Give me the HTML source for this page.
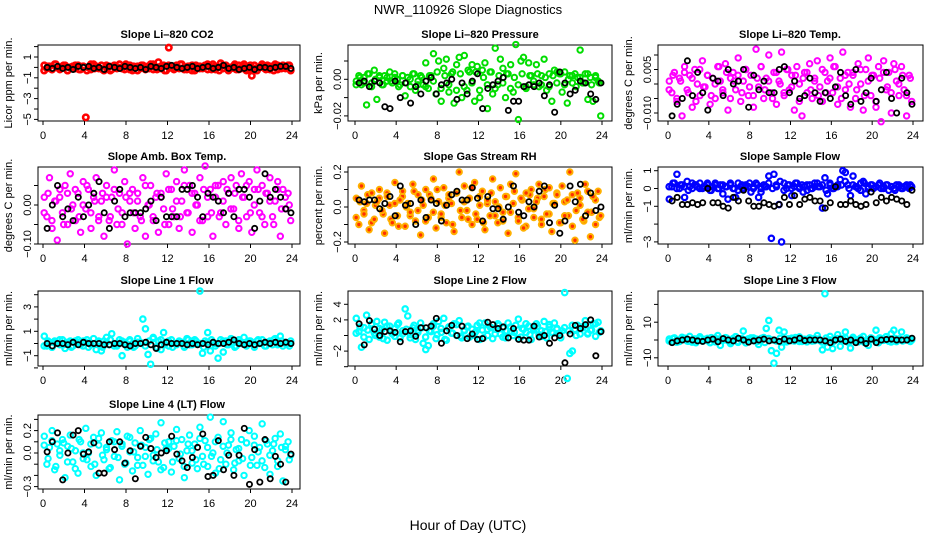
<!DOCTYPE html>
<html><head><meta charset="utf-8"><style>
html,body{margin:0;padding:0;background:#fff;}
svg{display:block;font-family:"Liberation Sans",Arial,sans-serif;}
</style></head><body>
<svg id="chart" width="936" height="540" viewBox="0 0 936 540" xmlns="http://www.w3.org/2000/svg">
<rect width="936" height="540" fill="#fff"/>
<text x="468" y="14" text-anchor="middle" font-size="13">NWR_110926  Slope Diagnostics</text>
<text x="468" y="530" text-anchor="middle" font-size="14">Hour of Day (UTC)</text>
</svg>
<script>
const xTicks = [0,4,8,12,16,20,24];
const p1Color = [0.2,-0.1,0.1,-0.2,0.3,0,-0.2,0.1,0.2,-0.3,0,0.1,-0.1,0.2,-0.2,0.1,-4.8,0,-0.2,0.3,0.1,-0.1,0.2,-0.3,0,0.1,-0.2,0.2,-0.1,0.3,0,-0.2,0.1,0.2,-0.3,0,0.1,-0.1,0.2,-0.2,0.1,0.3,-0.2,0,0.5,-0.1,0.2,-0.3,1.9,0.1,-0.2,0.2,-0.1,0.3,0,-0.2,0.1,0.2,-0.3,0,0.1,-0.1,0.2,-0.2,0.1,0.3,-0.2,0,0.4,-0.1,0.2,-0.3,0,0.1,-0.2,0.2,-0.1,0.3,0,-0.2,-0.8,0.2,-0.3,0,0.1,-0.1,0.2,-0.2,0.1,0.3,-0.2,0,0.2,-0.1,0.2,-0.3];
const p1Extra = [-0.3,0.1,-0.2,0.3,-0.1,0.2,-0.3,0.0,0.2,-0.2,0.1,-0.3,0.3,-0.1,0.0,-0.2,0.2,-0.3,0.1,0.0,-0.1,0.3,-0.2,0.1,-0.3,0.2,0.0,-0.1,0.3,-0.2,0.1,-0.3,0.2,-0.1,0.0,0.3,-0.2,0.1,-0.3,0.2,-0.1,0.0,0.3,-0.2,0.1,-0.3,0.2,0.0,-0.1,0.3,-0.2,0.1,-0.3,0.2,-0.1,0.0,0.3,-0.2,0.1,-0.3,0.2,-0.1,0.0,0.2];
const p1Black = [0.0,-0.1,0.1,-0.1,0,-0.2,0.1,0,0.1,-0.1,0,-0.2,0.1,0,-0.1,0.1,0,-0.1,0,-0.2,0.1,0,-0.1,0.1,0.2,0,-0.1,0,0.1,-0.1,0,0.1,-0.1,0,0.2,-0.1,0,-0.2,-0.1,0,-0.2,0,0,-0.1,0,0.1,0.1,-0.1];
const p2Color = [-0.001,0.002,-0.003,0.001,-0.014,0.003,-0.002,0.005,-0.011,0.001,-0.003,0.002,-0.001,0.004,-0.002,0.001,0.000,-0.003,0.002,-0.009,0.001,-0.004,0.003,-0.006,-0.001,0.002,-0.003,0.009,-0.005,0.002,0.014,-0.008,0.010,-0.012,0.006,0.011,-0.007,0.003,-0.013,0.008,0.012,-0.010,0.013,-0.006,0.004,0.008,-0.012,0.007,-0.010,0.005,0.009,-0.016,0.004,-0.008,0.017,-0.003,0.011,0.006,-0.010,0.003,0.008,-0.007,0.019,-0.022,0.010,0.012,-0.005,0.009,0.002,-0.003,0.008,-0.004,0.002,0.011,-0.006,0.003,-0.012,0.005,0.004,0.003,-0.007,0.004,-0.013,0.002,-0.002,0.003,0.001,0.016,-0.002,0.003,-0.011,0.001,-0.012,0.002,-0.001,-0.020];
const p2Extra = [-0.003,0.001,-0.002,0.003,-0.004,0.000,0.002,-0.003,0.001,-0.001,0.003,-0.004,0.002,-0.002,0.000,0.003,-0.003,0.001,-0.004,0.002,-0.001,0.004,-0.005,0.002,-0.003,0.004,-0.006,0.003,-0.004,0.005,-0.002,0.004,-0.006,0.001,-0.003,0.004,-0.005,0.002,-0.002,0.003,-0.005,0.001,-0.003,0.003,-0.004,0.002,-0.001,0.003,-0.003,0.001,-0.004,0.002,-0.002,0.003,-0.003,0.000,0.002,-0.004,0.001,-0.002,0.003,-0.003,0.001,-0.002];
const p2Black = [-0.002,-0.001,-0.004,-0.001,-0.002,-0.015,-0.016,-0.001,-0.010,-0.002,-0.013,-0.004,-0.008,-0.001,0.001,-0.008,-0.003,-0.002,0.000,-0.011,-0.002,-0.008,-0.001,0.003,-0.016,-0.005,-0.003,-0.001,0.001,-0.017,-0.012,-0.012,-0.004,-0.003,-0.004,-0.002,-0.009,-0.003,-0.018,0.004,-0.002,-0.008,-0.006,-0.001,-0.002,-0.008,-0.011,-0.002];
const p3Color = [0.001,-0.003,0.004,-0.006,0.002,-0.011,0.006,-0.002,0.003,-0.008,0.005,0.000,-0.004,0.008,-0.001,0.003,-0.007,0.002,-0.005,0.006,0.001,-0.003,0.007,-0.009,0.002,0.004,-0.002,0.009,-0.006,0.001,0.005,-0.004,0.003,-0.008,0.012,-0.001,0.006,-0.005,0.002,0.010,-0.003,0.004,-0.007,0.001,0.011,-0.004,0.005,-0.002,0.003,-0.009,0.006,0.000,-0.011,0.004,-0.003,0.007,-0.005,0.002,0.008,-0.001,-0.006,0.004,0.001,0.009,-0.003,0.006,-0.007,0.002,0.011,-0.002,0.004,-0.008,0.003,-0.005,0.007,0.000,-0.009,0.005,0.009,-0.004,0.003,-0.008,0.006,-0.013,0.008,-0.002,0.004,-0.010,0.007,0.001,-0.004,0.006,-0.002,-0.011,0.003,-0.006];
const p3Extra = [-0.002,0.003,-0.005,0.001,0.004,-0.003,0.002,-0.006,0.005,-0.001,0.003,-0.004,0.000,0.006,-0.002,0.004,-0.005,0.001,0.003,-0.003,0.005,-0.001,-0.004,0.002,0.006,-0.002,0.001,-0.005,0.004,0.000,-0.003,0.005,-0.001,0.003,-0.006,0.002,0.004,-0.002,0.001,-0.004,0.005,-0.003,0.002,0.006,-0.001,-0.005,0.003,0.000,0.004,-0.002,0.005,-0.004,0.001,0.003,-0.006,0.002,0.004,-0.001,-0.003,0.005,0.000,0.003,-0.004,0.002];
const p3Black = [-0.011,-0.007,-0.005,0.008,-0.004,0.004,-0.003,-0.009,0.002,0.001,-0.004,0.005,0.000,0.001,0.005,-0.008,0.003,-0.002,0.001,-0.003,-0.003,0.005,0.006,-0.003,0.001,-0.005,-0.004,0.002,-0.003,-0.006,-0.003,-0.005,-0.001,0.004,-0.004,-0.007,0.005,-0.006,-0.003,0.002,-0.006,-0.002,0.004,-0.005,-0.010,0.002,-0.003,-0.007];
const p4Color = [0.02,-0.03,0.07,-0.06,0.01,-0.09,0.04,-0.02,0.05,-0.05,0.08,0.00,-0.04,0.03,-0.07,0.06,-0.01,0.04,-0.06,0.02,0.07,-0.03,0.01,-0.08,0.05,-0.04,0.02,0.09,-0.05,0.03,-0.02,0.06,-0.10,0.01,0.04,-0.06,0.03,-0.03,0.07,-0.08,0.00,0.05,-0.04,0.02,-0.07,0.03,-0.01,0.08,-0.05,0.04,-0.03,0.06,-0.06,0.01,0.09,-0.02,0.05,-0.07,0.03,0.00,0.07,-0.04,0.10,-0.03,0.04,-0.08,0.02,0.05,-0.02,0.06,-0.05,0.03,0.07,-0.01,0.05,-0.06,0.08,0.02,-0.03,0.06,-0.07,0.04,0.09,-0.02,0.05,-0.05,0.03,0.07,-0.03,0.01,0.06,-0.08,0.04,-0.01,0.03,-0.04];
const p4Extra = [-0.02,0.03,-0.04,0.01,0.02,-0.05,0.03,-0.01,0.04,-0.03,0.00,0.05,-0.02,0.01,-0.04,0.03,0.02,-0.03,0.04,-0.01,-0.05,0.02,0.03,-0.02,0.01,-0.04,0.05,0.00,-0.03,0.03,0.02,-0.05,0.04,-0.01,0.01,-0.03,0.05,-0.02,0.03,0.00,-0.04,0.04,0.02,-0.02,0.05,-0.03,0.01,0.04,-0.01,0.03,-0.04,0.02,0.05,-0.02,0.00,0.04,-0.03,0.03,0.01,-0.05,0.04,-0.01,0.02,0.00];
const p4Black = [-0.06,0.00,0.05,-0.03,-0.01,-0.04,0.02,-0.03,0.00,0.03,0.06,-0.02,-0.06,0.01,0.04,-0.03,-0.02,-0.02,-0.02,-0.01,0.01,-0.04,0.02,-0.03,-0.03,-0.03,0.04,0.04,0.05,0.02,-0.03,0.03,0.02,0.01,-0.02,0.03,-0.03,0.04,0.04,0.02,-0.06,0.01,0.08,0.02,0.04,0.02,-0.01,-0.02];
const p5Color = [0.05,-0.10,0.12,-0.04,0.02,-0.13,0.08,-0.07,0.03,0.10,-0.02,-0.15,0.06,0.01,-0.09,0.14,-0.05,0.04,0.09,-0.11,0.02,-0.03,0.13,-0.08,0.07,-0.16,0.01,0.10,-0.06,0.05,0.16,-0.12,0.03,-0.04,0.11,-0.09,0.07,0.02,-0.14,0.08,0.20,-0.06,0.12,-0.02,0.05,-0.10,0.14,-0.07,0.01,0.09,-0.13,0.04,-0.05,0.16,0.03,-0.09,0.11,-0.03,0.06,-0.15,0.13,0.02,0.19,-0.08,0.05,-0.12,0.08,-0.01,0.10,-0.06,0.03,0.13,-0.10,0.06,-0.04,0.11,-0.14,0.02,0.07,-0.09,0.12,-0.05,0.04,0.20,-0.11,-0.19,0.08,0.01,-0.07,0.13,-0.03,-0.17,0.06,-0.10,0.09,-0.05];
const p5Extra = [-0.06,0.03,-0.02,0.07,-0.09,0.01,0.05,-0.04,0.08,-0.07,0.02,-0.11,0.06,0.00,-0.05,0.09,-0.02,0.04,-0.08,0.07,-0.03,0.10,-0.06,0.01,0.05,-0.10,0.08,-0.02,0.03,-0.07,0.11,-0.04,0.06,-0.09,0.02,0.08,-0.05,0.00,-0.08,0.06,-0.03,0.09,-0.06,0.04,-0.11,0.07,-0.01,0.05,-0.07,0.10,-0.04,0.02,0.08,-0.09,0.03,-0.05,0.07,-0.02,0.05,-0.08,0.09,-0.03,0.04,-0.06];
const p5Black = [0.04,0.03,0.04,0.04,-0.01,0.02,0.06,-0.05,0.12,0.01,0.02,-0.10,0.04,-0.06,0.04,0.02,-0.08,0.01,0.07,0.09,0.04,0.04,0.11,0.05,-0.08,0.06,-0.01,-0.01,-0.07,0.00,0.12,-0.03,-0.05,0.03,0.00,0.09,0.12,-0.09,0.01,-0.15,-0.08,0.12,0.03,0.13,-0.05,0.08,-0.02,0.00];
const p6Color = [-0.6,0.1,0.3,0.8,0.0,0.2,-0.5,0.4,0.1,0.0,0.2,0.1,0.3,0.0,0.1,0.2,-0.1,0.1,0.3,0.0,0.2,-0.3,0.1,-0.6,0.2,0.0,-0.5,0.3,0.1,0.0,0.2,0.1,-0.2,0.1,0.3,-0.5,0.0,0.2,0.1,0.7,-2.8,0.8,0.1,-0.9,-3.0,0.3,0.0,0.2,-0.4,0.1,0.3,0.0,0.2,0.1,-0.1,0.2,0.0,0.1,0.3,0.1,-1.1,0.6,-0.3,0.2,0.0,0.1,0.2,0.5,1.0,0.9,0.2,-0.4,0.7,0.1,0.0,0.3,0.4,-0.3,0.1,0.2,0.0,0.1,0.2,0.0,0.1,0.2,-0.1,0.1,0.0,0.2,0.1,0.0,0.1,0.2,0.0,0.1];
const p6Extra = [0.1,0.3,0.0,0.2,0.1,-0.1,0.3,0.2,0.0,0.1,0.3,-0.1,0.2,0.0,0.2,0.1,0.3,0.0,-0.1,0.2,0.1,0.3,0.0,0.2,-0.2,0.1,0.3,0.0,0.2,0.4,-0.1,0.2,0.0,0.3,0.1,-0.2,0.2,0.0,0.3,0.1,0.2,-0.1,0.3,0.0,0.1,0.2,0.4,0.0,0.2,0.1,-0.1,0.3,0.0,0.2,0.1,0.3,0.0,0.2,0.1,-0.1,0.2,0.0,0.1,0.2];
const p6Black = [-0.7,-0.5,-0.9,-0.9,-0.8,-0.9,-0.8,0.0,-0.8,-0.8,-1.0,-1.1,-0.5,-0.7,-0.1,-0.7,-1.0,-1.0,-0.8,-0.9,-1.0,-0.9,-0.5,-0.9,-0.4,-0.9,-0.6,-0.5,-0.7,-0.7,-1.1,-0.8,0.1,-0.9,-0.9,-0.7,-0.9,-1.0,-0.9,-0.2,-0.8,-0.5,-0.7,-0.5,-0.6,-0.7,-0.9,-0.1];
const p7Color = [0.6,-0.2,0.1,-0.3,0.2,0.0,-0.1,0.3,-0.4,0.1,0.2,-0.2,0.0,0.3,-0.1,0.2,0.1,-0.3,0.0,0.4,-0.5,0.1,-0.6,0.2,0.5,-0.1,0.8,0.0,-0.2,0.3,-1.0,0.1,-0.3,0.2,0.0,-0.2,0.4,0.1,2.0,1.2,-0.9,-1.7,0.5,-0.3,0.2,-0.5,0.9,0.1,-0.2,0.3,0.0,-0.1,0.2,0.1,-0.3,0.4,-0.1,0.2,0.3,0.0,4.3,-0.8,0.2,0.9,-0.6,0.1,0.0,-1.2,0.3,-0.7,0.2,-0.1,0.4,0.1,-0.2,0.3,0.0,0.5,-0.1,0.2,0.1,-0.3,0.2,0.0,0.3,-0.2,0.1,0.2,-0.1,0.4,0.0,0.6,-0.2,0.1,0.0,0.2];
const p7Extra = [-0.2,0.2,-0.3,0.1,0.3,-0.1,0.0,-0.3,0.2,0.1,-0.2,0.3,-0.1,0.0,0.2,-0.3,0.1,0.3,-0.2,0.0,0.2,-0.1,0.3,-0.3,0.1,0.0,-0.2,0.2,0.4,-0.4,0.3,-0.1,0.2,-0.3,0.0,0.1,-0.2,0.3,-0.1,0.2,0.0,-0.3,0.1,0.3,-0.2,0.0,0.2,-0.1,0.3,-0.3,0.1,0.0,-0.2,0.2,-0.1,0.3,0.0,-0.2,0.1,0.3,-0.1,0.2,0.0,-0.2];
const p7Black = [0.0,-0.2,0.0,0.0,-0.1,0.1,-0.1,0.1,0.0,0.0,0.0,-0.1,-0.1,0.0,0.0,-0.1,-0.2,0.0,0.0,0.1,-0.1,-0.4,-0.1,0.1,0.0,0.0,0.0,-0.1,0.0,-0.1,0.0,-0.1,0.1,0.0,0.0,0.1,0.3,0.0,-0.1,0.0,-0.1,0.0,0.1,0.0,0.1,0.0,0.1,0.0];
const p8Color = [2.2,0.5,-1.5,1.0,2.6,-0.5,1.5,0.3,1.8,-0.2,0.8,1.7,-0.6,1.2,0.2,0.9,1.4,-0.3,0.6,3.4,2.5,0.1,1.0,-0.5,0.7,1.6,-1.0,-1.8,-1.3,0.5,1.2,-0.4,1.8,0.4,2.2,-0.6,0.9,0.3,1.5,0.0,1.9,-0.3,0.6,1.1,-0.2,0.8,0.3,1.3,-0.5,0.7,1.6,0.0,1.1,-0.4,0.8,1.5,0.2,1.0,-0.3,1.6,0.5,0.0,1.3,2.1,-0.2,0.8,0.4,1.2,-0.5,0.9,1.5,0.1,0.6,1.8,-0.3,1.1,0.4,1.6,0.9,0.3,0.6,5.5,-5.5,-2.3,-2.0,0.8,1.3,0.2,1.0,1.9,0.3,0.7,1.5,-0.1,1.7,0.6];
const p8Extra = [0.3,1.1,-0.2,0.7,1.4,0.0,0.9,-0.4,1.2,0.5,-0.1,1.6,0.2,0.8,-0.3,1.3,0.4,1.0,-0.2,0.6,1.5,0.1,0.9,-0.5,1.1,0.3,1.4,-0.1,0.7,1.2,0.0,0.5,1.6,-0.3,0.8,1.0,0.2,1.3,-0.2,0.6,1.1,0.4,-0.4,0.9,1.5,0.1,0.7,1.2,-0.1,0.5,1.4,0.3,0.8,-0.3,1.0,0.6,1.3,0.0,0.9,1.2,0.2,0.7,1.5,0.4];
const p8Black = [1.5,-1.2,1.9,0.8,0.0,0.5,0.6,0.4,-0.8,0.5,0.6,-0.1,1.0,1.0,1.2,2.2,-1.0,0.6,1.3,0.0,1.2,-0.4,0.2,-0.5,-0.4,1.7,1.4,0.9,1.1,-0.3,0.9,-0.5,-0.6,-0.6,1.2,-0.2,0.0,-1.0,-0.3,0.0,-3.5,0.2,1.3,0.9,1.4,2.0,-2.6,0.5];
const p9Color = [0.5,-1.0,1.2,0.0,-0.8,1.5,0.3,-0.5,2.0,-1.2,0.6,0.0,1.8,-0.6,0.4,0.9,-1.5,0.2,1.0,2.5,-3.0,0.5,1.3,-0.4,-2.0,0.8,1.9,-0.9,0.3,5.0,-1.6,0.7,1.2,-0.3,0.5,-2.5,0.9,1.4,6.5,11.0,-6.0,-13.0,-7.5,5.5,-4.0,4.5,-1.0,0.6,1.0,-0.5,0.3,1.7,-0.8,0.4,0.0,1.2,-0.6,0.8,2.5,-0.3,-5.5,26.0,-4.0,2.0,-4.8,0.5,3.0,-3.5,0.7,4.5,-1.2,-4.5,1.5,0.2,-1.0,0.8,2.0,-0.4,-3.0,1.2,0.3,5.5,-1.5,0.8,0.4,1.9,-0.7,3.5,5.5,-0.9,0.6,4.5,-0.2,1.2,0.5,0.0];
const p9Extra = [-0.5,0.8,-1.2,0.3,1.0,-0.7,0.2,-1.5,0.9,0.0,-0.4,1.3,-1.0,0.5,-0.2,1.1,-0.8,0.4,-1.3,0.7,0.1,-0.6,1.2,-0.9,0.3,-1.4,0.8,0.0,-0.5,1.0,-1.1,0.6,-0.3,1.4,-0.8,0.2,-1.0,0.9,-0.4,0.5,-1.2,1.1,0.0,-0.7,0.8,-0.3,1.3,-1.0,0.4,-0.6,1.0,-1.3,0.2,0.7,-0.9,1.2,-0.2,0.6,-1.1,0.9,0.0,-0.5,1.0,-0.8];
const p9Black = [-1.5,-0.5,0.0,0.5,0.0,-0.5,-0.8,0.0,0.5,-1.0,0.8,0.0,-0.5,1.0,0.0,-1.2,-0.5,0.0,0.5,-0.5,0.0,-0.8,0.5,-0.5,0.0,1.0,-0.3,0.0,0.0,0.0,-0.5,-1.5,0.0,0.5,-0.8,0.0,-1.5,0.0,-2.0,0.5,-1.5,0.0,0.3,0.5,0.0,0.0,0.0,1.0];
const p10Color = [0.15,-0.10,0.05,0.20,-0.15,0.08,-0.02,0.12,-0.22,0.06,0.16,-0.08,0.02,-0.18,0.10,-0.05,0.22,0.00,-0.12,0.14,-0.20,0.07,0.18,-0.06,0.03,-0.14,0.11,-0.03,0.19,-0.24,0.08,-0.10,0.15,0.01,-0.16,0.09,-0.04,0.20,-0.11,0.05,-0.19,0.13,-0.02,0.17,-0.08,0.27,-0.13,0.04,0.10,-0.17,0.06,0.21,-0.05,0.12,-0.22,0.02,0.16,-0.09,0.08,-0.14,0.23,-0.03,0.11,-0.12,0.32,0.00,-0.18,0.14,-0.06,0.28,-0.10,0.07,0.18,-0.15,0.03,-0.07,0.12,-0.20,0.09,0.20,-0.04,0.15,-0.11,0.05,0.26,-0.13,0.08,-0.19,0.02,0.13,-0.07,0.17,-0.25,0.06,0.10,-0.02];
const p10Extra = [0.07,-0.05,0.11,-0.12,0.02,0.09,-0.08,0.04,-0.14,0.12,0.00,-0.06,0.08,-0.10,0.13,-0.02,0.05,-0.13,0.10,-0.04,0.06,-0.09,0.14,0.01,-0.11,0.07,-0.03,0.12,-0.07,0.03,-0.15,0.09,0.04,-0.08,0.11,-0.01,-0.12,0.08,0.02,-0.06,0.13,-0.10,0.05,-0.03,0.10,-0.14,0.06,0.00,0.12,-0.09,0.04,-0.05,0.09,-0.11,0.07,0.01,-0.07,0.11,-0.02,0.08,-0.12,0.05,0.03,-0.06];
const p10Black = [0.01,0.10,0.18,-0.24,0.00,0.16,0.20,-0.01,0.01,0.09,-0.18,-0.18,0.10,0.03,0.10,-0.09,0.02,-0.23,0.06,0.14,0.04,-0.04,0.00,0.02,0.15,-0.01,-0.07,-0.13,-0.04,0.05,0.17,-0.21,-0.20,0.11,-0.15,-0.02,-0.20,-0.02,0.22,-0.28,0.03,-0.26,0.12,-0.23,-0.03,-0.10,-0.26,-0.01];

const NS = "http://www.w3.org/2000/svg";
const svg = document.getElementById("chart");
const cols = [{bx0:38,bx1:300,h0:43,h24:292,tc:167},{bx0:348,bx1:612,h0:355,h24:602,tc:480},{bx0:658,bx1:923,h0:668,h24:913,tc:790}];
const rows = [{by0:45,by1:121,ty:38},{by0:167,by1:244,ty:160},{by0:291,by1:366,ty:284},{by0:415,by1:489,ty:408}];
const panels = [
 {name:"co2",c:0,r:0,title:"Slope Li\u2013820 CO2",yl:"Licor ppm per min.",y0:67.4,k:10.4,ticks:[-5,-4,-3,-2,-1,0,1,2],labs:[[1,"1"],[-1,"\u22121"],[-3,"\u22123"],[-5,"\u22125"]],col:"#ff0000",cv:p1Color,ev:p1Extra,bv:p1Black,sw:2.6},
 {name:"pressure",c:1,r:0,title:"Slope Li\u2013820 Pressure",yl:"kPa per min.",y0:79.3,k:1830,ticks:[0.01,0,-0.01,-0.02],labs:[[0,"0.00"],[-0.02,"\u22120.02"]],col:"#00dd00",cv:p2Color,ev:p2Extra,bv:p2Black,sw:2},
 {name:"temp",c:2,r:0,title:"Slope Li\u2013820 Temp.",yl:"degrees C per min.",y0:84,k:2900,ticks:[0.01,0.005,0,-0.005,-0.01],labs:[[0.005,"0.005"],[-0.01,"\u22120.010"]],col:"#ff00ff",cv:p3Color,ev:p3Extra,bv:p3Black,sw:2},
 {name:"amb-box-temp",c:0,r:1,title:"Slope Amb. Box Temp.",yl:"degrees C per min.",y0:205,k:390,ticks:[0.05,0,-0.05,-0.1],labs:[[0,"0.00"],[-0.1,"\u22120.10"]],col:"#ff00ff",cv:p4Color,ev:p4Extra,bv:p4Black,sw:2},
 {name:"gas-rh",c:1,r:1,title:"Slope Gas Stream RH",yl:"percent per min.",y0:207,k:175,ticks:[0.2,0.1,0,-0.1,-0.2],labs:[[0.2,"0.2"],[0,"0.0"],[-0.2,"\u22120.2"]],col:"#ffb000",cv:p5Color,ev:p5Extra,bv:p5Black,sw:2,inner:"#ff3000"},
 {name:"sample-flow",c:2,r:1,title:"Slope Sample Flow",yl:"ml/min per min.",y0:188.5,k:17.8,ticks:[1,0,-1,-2,-3],labs:[[1,"1"],[0,"0"],[-1,"\u22121"],[-3,"\u22123"]],col:"#0000ff",cv:p6Color,ev:p6Extra,bv:p6Black,sw:2.2},
 {name:"line1-flow",c:0,r:2,title:"Slope Line 1 Flow",yl:"ml/min per min.",y0:343.5,k:12.2,ticks:[-2,-1,0,1,2,3,4],labs:[[3,"3"],[1,"1"],[-1,"\u22121"]],col:"#00ffff",cv:p7Color,ev:p7Extra,bv:p7Black,sw:2.2},
 {name:"line2-flow",c:1,r:2,title:"Slope Line 2 Flow",yl:"ml/min per min.",y0:335.5,k:7.8,ticks:[-4,-2,0,2,4],labs:[[4,"4"],[2,"2"],[-2,"\u22122"]],col:"#00ffff",cv:p8Color,ev:p8Extra,bv:p8Black,sw:2.2},
 {name:"line3-flow",c:2,r:2,title:"Slope Line 3 Flow",yl:"ml/min per min.",y0:340,k:1.78,ticks:[-10,0,10,20],labs:[[10,"10"],[-10,"\u221210"]],col:"#00ffff",cv:p9Color,ev:p9Extra,bv:p9Black,sw:2.2},
 {name:"line4-flow",c:0,r:3,title:"Slope Line 4 (LT) Flow",yl:"ml/min per min.",y0:453,k:112,ticks:[-0.3,-0.2,-0.1,0,0.1,0.2,0.3],labs:[[0.2,"0.2"],[0,"0.0"],[-0.3,"\u22120.3"]],col:"#00ffff",cv:p10Color,ev:p10Extra,bv:p10Black,sw:2}
];
function mk(tag, attrs, parent){const e=document.createElementNS(NS,tag);for(const a in attrs)e.setAttribute(a,attrs[a]);(parent||svg).appendChild(e);return e;}
panels.forEach(p=>{
  const C=cols[p.c], R=rows[p.r];
  const g=mk("g",{});
  
  
  const xs=h=>C.h0+(C.h24-C.h0)*h/24;
  const ys=v=>p.y0-v*p.k;
  const box=mk("rect",{x:C.bx0,y:R.by0,width:C.bx1-C.bx0,height:R.by1-R.by0,fill:"none",stroke:"#000","stroke-width":1},g);
  
  
  const t=mk("text",{x:C.tc,y:R.ty,"text-anchor":"middle","font-size":"11","font-weight":"bold"},g);
  t.textContent=p.title;
  
  
  const yl=mk("text",{transform:`translate(${C.bx0-26},${(R.by0+R.by1)/2}) rotate(-90)`,"text-anchor":"middle","font-size":"11"},g);
  yl.textContent=p.yl;
  
  
  xTicks.forEach(h=>{
    mk("line",{x1:xs(h),x2:xs(h),y1:R.by1,y2:R.by1+4,stroke:"#000"},g);
    const l=mk("text",{x:xs(h),y:R.by1+18,"text-anchor":"middle","font-size":"11"},g);
    l.textContent=String(h);
    
    
  });
  p.ticks.forEach(v=>{mk("line",{x1:C.bx0-4,x2:C.bx0,y1:ys(v),y2:ys(v),stroke:"#000"},g);});
  p.labs.forEach(([v,s])=>{
    const l=mk("text",{transform:`translate(${C.bx0-7},${ys(v)}) rotate(-90)`,"text-anchor":"middle","font-size":"11"},g);
    l.textContent=s;
    
    
  });
  const drawColor=(arr,off)=>{
    const n=arr.length;
    arr.forEach((v,i)=>{
      const h=(i+off)*24/n;
      const c=mk("circle",{cx:xs(h),cy:ys(v),r:2.7,fill:p.inner?p.inner:"none",stroke:p.col,"stroke-width":p.sw},g);
      
      
    });
  };
  drawColor(p.ev,0.3);
  drawColor(p.cv,0.5);
  const m=p.bv.length;
  p.bv.forEach((v,i)=>{
    const h=0.4+i*23.5/(m-1);
    const c=mk("circle",{cx:xs(h),cy:ys(v),r:2.6,fill:"none",stroke:"#000","stroke-width":1.8},g);
    
    
  });
});
</script>
</body></html>
